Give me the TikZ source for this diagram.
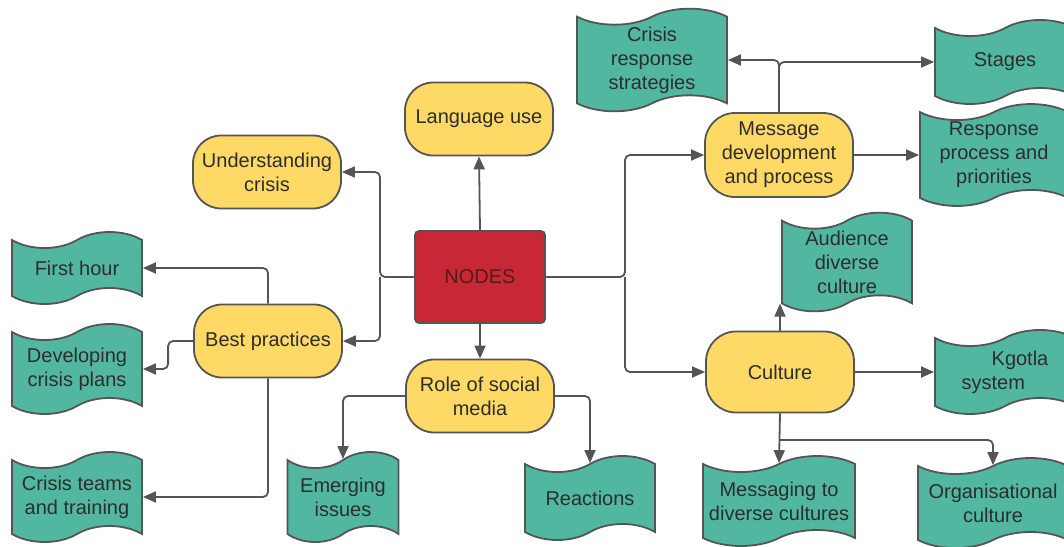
\documentclass[tikz,border=0pt]{standalone}
\usepackage{fontspec}
\setmainfont{Liberation Sans}
\usetikzlibrary{shapes.symbols,arrows.meta}
\definecolor{jaune}{RGB}{255,217,102}
\definecolor{vert}{RGB}{82,183,160}
\definecolor{rouge}{RGB}{200,40,54}
\definecolor{trait}{RGB}{85,85,85}
\definecolor{texte}{RGB}{45,45,45}
\definecolor{bordeaux}{RGB}{85,25,30}
\tikzset{
	police/.style={font=\fontsize{20}{24}\selectfont},
	theme/.style={police, draw=trait, line width=1.8pt, fill=jaune, rounded corners=28pt,
		minimum width=148pt, minimum height=73pt, align=center, text=texte, inner sep=2pt},
	sujet/.style={police, tape, draw=trait, line width=1.8pt, fill=vert,
		tape bend top=in and out, tape bend bottom=in and out, tape bend height=16pt,
		minimum width=130pt, minimum height=72pt, align=center, text=texte, inner sep=2pt},
	centre/.style={police, draw=trait, line width=1.8pt, fill=rouge, rounded corners=4pt,
		minimum width=130pt, minimum height=92pt, text=bordeaux},
	lien/.style={draw=trait, line width=1.8pt, rounded corners=5pt,
		-{Triangle[length=13pt,width=11pt]}},
}
\begin{document}
\begin{tikzpicture}[x=1pt,y=-1pt]
	\useasboundingbox (0,0) rectangle (1064,546);
%					Noeud central :
	\node[centre] (noeud) at (480,277) {NODES};
%					Thèmes :
	\node[theme] (lu) at (479,119) {Language use};
	\node[theme] (uc) at (267,172) {Understanding\\crisis};
	\node[theme] (bp) at (268,341) {Best practices};
	\node[theme] (rsm) at (480,396) {Role of social\\media};
	\node[theme, minimum height=84pt, rounded corners=30pt] (md) at (779,155) {Message\\development\\and process};
	\node[theme, minimum height=81pt, rounded corners=30pt] (cu) at (780,372) {Culture};
%					Sujets :
	\node[sujet] (fh) at (77,268) {First hour};
	\node[sujet, minimum height=90pt] (dcp) at (77,369) {Developing\\crisis plans};
	\node[sujet, minimum height=90pt] (ct) at (77,497) {Crisis teams\\and training};
	\node[sujet, minimum width=111pt, minimum height=90pt] (ei) at (343,497) {Emerging\\issues};
	\node[sujet, minimum height=84pt] (re) at (590,498) {Reactions};
	\node[sujet, minimum width=150pt, minimum height=90pt] (crs) at (652,60) {Crisis\\response\\strategies};
	\node[sujet, minimum width=140pt, minimum height=84pt] (st) at (1005,62) {Stages};
	\node[sujet, minimum width=148pt, minimum height=90pt] (rpp) at (994,155) {Response\\process and\\priorities};
	\node[sujet, minimum height=96pt] (adc) at (847,262) {Audience\\diverse\\culture};
	\node[sujet, minimum width=140pt, minimum height=84pt, align=left] (kg) at (1005,372) {\hspace*{1.5em}Kgotla\\system};
	\node[sujet, minimum width=152pt, minimum height=90pt] (mdc) at (779,501) {Messaging to\\diverse cultures};
	\node[sujet, minimum width=150pt, minimum height=90pt] (oc) at (993,503) {Organisational\\culture};
%					Points de jonction :
	\coordinate (gauche) at (380,277);
	\coordinate (droite) at (625,277);
	\coordinate (bas) at (780,440);
%					Liens du noeud central :
	\draw[lien] (noeud.north) -- (lu.south);
	\draw[lien] (noeud.south) -- (rsm.north);
	\draw[lien] (noeud.west) -- (gauche) |- (uc.east);
	\draw[lien] (gauche) |- (bp.east);
	\draw[lien] (noeud.east) -- (droite) |- (md.west);
	\draw[lien] (droite) |- (cu.west);
%					Liens des thèmes :
	\draw[lien] (bp.north) |- (fh.east);
	\draw[lien] (bp.west) -- ++(-25,0) |- (dcp.east);
	\draw[lien] (bp.south) |- (ct.east);
	\draw[lien] (rsm.west) -| (ei.north);
	\draw[lien] (rsm.east) -| (re.north);
	\draw[lien] (md.north) |- (crs.east);
	\draw[lien] (md.north) |- (st.west);
	\draw[lien] (md.east) -- (rpp.west);
	\draw[lien] (cu.north) -- (cu.north |- adc.south west);
	\draw[lien] (cu.east) -- (kg.west);
	\draw[lien] (cu.south) -- (mdc.north);
	\draw[lien] (bas) -| (oc.north);
\end{tikzpicture}
\end{document}
